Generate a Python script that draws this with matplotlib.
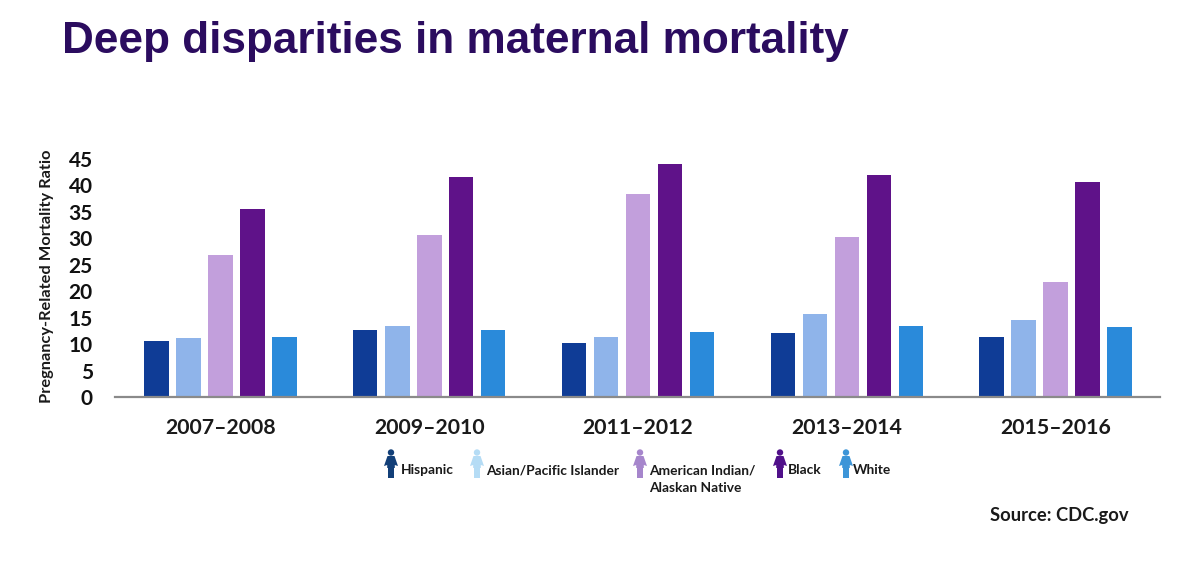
import numpy as np
import matplotlib
matplotlib.use("Agg")
import matplotlib.pyplot as plt
from matplotlib.patches import Circle, Polygon, Rectangle

periods = ["2007–2008", "2009–2010", "2011–2012", "2013–2014", "2015–2016"]
hispanic = [10.6, 12.6, 10.3, 12.1, 11.4]
asian = [11.1, 13.4, 11.4, 15.7, 14.6]
native = [26.9, 30.6, 38.3, 30.3, 21.8]
black = [35.5, 41.5, 44.1, 42.0, 40.6]
white = [11.4, 12.6, 12.3, 13.5, 13.2]
series = [hispanic, asian, native, black, white]
bar_colors = ["#0f3c96", "#8fb4ea", "#c29fdc", "#5f1289", "#2a8ada"]

legend_names = ["Hispanic", "Asian/Pacific Islander", "American Indian/\nAlaskan Native", "Black", "White"]
icon_colors = ["#123f78", "#b5dcf5", "#a686cc", "#50108a", "#3d95d8"]
icon_x = [391, 477, 640, 780, 846]
text_x = [401, 486.5, 649, 788, 853]

W, H = 1200, 578
text_font = "Lato"

fig = plt.figure(figsize=(W / 100, H / 100), dpi=100)

# axes placed by pixels, baseline at y=397
left, right, top, bottom = 115, 1160, 148, 397
ax = fig.add_axes([left / W, 1 - bottom / H, (right - left) / W, (bottom - top) / H])
x = np.arange(len(periods))
offsets = [-0.307, -0.153, 0, 0.153, 0.306]
for vals, off, c in zip(series, offsets, bar_colors):
    ax.bar(x + off, vals, width=0.117, color=c)

ax.set_xlim(-0.5055, 4.5)
ax.set_ylim(0, (bottom - top) / 5.29)
ax.set_yticks(range(0, 50, 5))
ax.tick_params(axis="y", length=0, labelsize=15, pad=16)
ax.set_xticks(x)
ax.set_xticklabels(periods, fontsize=15.3, fontweight="bold", family=text_font, color="#1a1a1a")
ax.tick_params(axis="x", length=0, pad=15)
for lab in ax.get_yticklabels():
    lab.set_family(text_font)
    lab.set_fontweight("bold")
    lab.set_color("#111111")
for s in ["top", "right", "left"]:
    ax.spines[s].set_visible(False)
ax.spines["bottom"].set_color("#8a8a8a")
ax.spines["bottom"].set_linewidth(1.6)

fig.text(47.5 / W, 1 - 276 / H, "Pregnancy-Related Mortality Ratio", rotation=90, ha="center", va="center",
         fontsize=11.8, fontweight="bold", family=text_font, color="#1a1a1a")
fig.text(62 / W, 1 - 42 / H, "Deep disparities in maternal mortality", ha="left", va="center",
         fontsize=31.8, fontweight="bold", family="Liberation Sans", color="#2b0c5f")
fig.text(990 / W, 1 - 515 / H, "Source: CDC.gov", ha="left", va="center",
         fontsize=13.2, fontweight="bold", family=text_font, color="#1a1a1a")

# overlay in pixel coordinates for the little person icons
ov = fig.add_axes([0, 0, 1, 1])
ov.set_xlim(0, W)
ov.set_ylim(H, 0)
ov.axis("off")
ov.patch.set_alpha(0)


def person(cx, c):
    ov.add_patch(Circle((cx, 452.5), 3.2, color=c, lw=0))
    ov.add_patch(Polygon([(cx - 3.5, 456), (cx + 3.5, 456), (cx + 7, 466), (cx + 3.8, 465), (cx + 3.8, 468),
                          (cx - 3.8, 468), (cx - 3.8, 465), (cx - 7, 466)], color=c, lw=0))
    ov.add_patch(Rectangle((cx - 3.2, 467), 2.8, 11, color=c, lw=0))
    ov.add_patch(Rectangle((cx + 0.4, 467), 2.8, 11, color=c, lw=0))


for cx, c, name, tx in zip(icon_x, icon_colors, legend_names, text_x):
    person(cx, c)
    ov.text(tx, 464.5, name, ha="left", va="top", fontsize=9.9, fontweight="bold", family=text_font,
            color="#1a1a1a", linespacing=1.5)

fig.savefig("out.png", dpi=100)
